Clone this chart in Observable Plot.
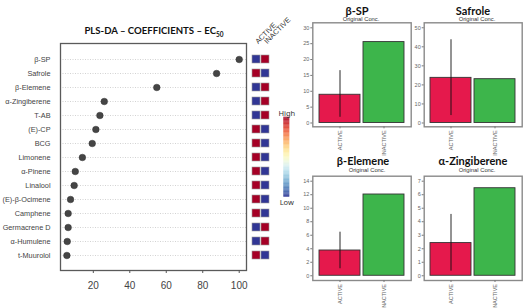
<!DOCTYPE html>
<html><head><meta charset="utf-8">
<script src="https://cdn.jsdelivr.net/npm/d3@7"></script>
<script src="https://cdn.jsdelivr.net/npm/@observablehq/plot@0.6"></script>
<style>
body{margin:0;background:#fff;}
#root{position:relative;width:529px;height:308px;overflow:hidden;background:#fff;font-family:"Liberation Sans",Arial,sans-serif;}
#root svg{position:absolute;background:transparent;}
.ttl{position:absolute;text-align:center;font-family:Lato,"Open Sans",sans-serif;font-weight:bold;color:#111;white-space:nowrap;}
.sub{position:absolute;text-align:center;font-family:"Liberation Sans",Arial,sans-serif;color:#333;white-space:nowrap;}
</style></head><body><div id="root"></div>
<script>
// ---------- data ----------
const compounds = ["β-SP","Safrole","β-Elemene","α-Zingiberene","T-AB","(E)-CP","BCG","Limonene","α-Pinene","Linalool","(E)-β-Ocimene","Camphene","Germacrene D","α-Humulene","t-Muurolol"];
const coefficients = [100, 87.6, 54.8, 26, 23.6, 21.4, 19.4, 14, 10.1, 9.5, 7.5, 6.2, 6.2, 5.7, 5.5];
const activeHigh = [0, 1, 0, 0, 0, 1, 1, 1, 1, 1, 1, 1, 0, 0, 1]; // 1 = High for ACTIVE (INACTIVE opposite)
const groups = ["ACTIVE", "INACTIVE"];
const coefTicks = [20, 40, 60, 80, 100];

const panelTitles = ["β-SP", "Safrole", "β-Elemene", "α-Zingiberene"];
const panelSubtitle = "Original Conc.";
const activeMeans = [8.9, 23.7, 3.74, 2.42];
const inactiveMeans = [25.5, 23.0, 12.03, 6.48];
const activeErrLow = [1.8, 3.9, 1.04, 0.34];
const activeErrHigh = [16.5, 43.7, 6.45, 4.54];
const panelTicks = [[0,5,10,15,20,25,30],[0,10,20,30,40,50],[0,2,4,6,8,10,12,14],[0,1,2,3,4,5,6,7]];
const panelDomains = [[-1.2,31.58],[-2.0,52.6],[-0.7,14.74],[-0.35,7.37]];

const root = document.getElementById("root");
function place(el, left, top){ el.style.left = left+"px"; el.style.top = top+"px"; root.appendChild(el); }

// ---------- title ----------
const t = document.createElement("div");
t.className = "ttl";
t.style.cssText = "left:60px;width:188px;top:25px;font-size:9.6px;";
t.innerHTML = "PLS-DA – COEFFICIENTS – EC<sub style='font-size:6.5px'>50</sub>";
root.appendChild(t);

// ---------- dot plot ----------
const dotData = compounds.map((c,i)=>({compound:c, coef:coefficients[i]}));
const dotPlot = Plot.plot({
  width: 250, height: 308,
  marginLeft: 60, marginRight: 4, marginTop: 43, marginBottom: 38,
  style: {background:"transparent", color:"#333", fontFamily:"Liberation Sans, Arial, sans-serif"},
  x: {domain:[2,104]},
  y: {type:"point", domain:compounds, padding:1},
  marks: [
    Plot.ruleY(compounds, {y:d=>d, stroke:"#c8c8c8", strokeDasharray:"1,1.5", strokeWidth:0.8}),
    Plot.frame({stroke:"#5a5a5a", strokeWidth:1.3}),
    Plot.dot(dotData, {x:"coef", y:"compound", r:3.3, fill:"#454545", stroke:"#333", strokeWidth:0.5}),
    Plot.axisX({ticks:coefTicks, tickSize:3, tickPadding:8, fontSize:10, label:null, stroke:"#555", fill:"#444"}),
    Plot.axisY({tickSize:0, tickPadding:10, fontSize:7.3, label:null, fill:"#444"})
  ]
});
place(dotPlot, 0, 0);

// ---------- heatmap ----------
const heatData = compounds.flatMap((c,i)=>[
  {compound:c, group:"ACTIVE", level:activeHigh[i]},
  {compound:c, group:"INACTIVE", level:1-activeHigh[i]}
]);
const heat = Plot.plot({
  width: 48, height: 308,
  marginLeft: 4, marginRight: 26, marginTop: 43, marginBottom: 38,
  style: {background:"transparent", overflow:"visible"},
  x: {type:"band", domain:groups, paddingInner:0.1, paddingOuter:0, axis:null},
  y: {type:"band", domain:compounds, paddingInner:0.436, paddingOuter:0.718, axis:null},
  color: {type:"linear", domain:[0,1], scheme:"RdYlBu", reverse:true},
  marks: [
    Plot.cell(heatData, {x:"group", y:"compound", fill:"level", stroke:"#999", strokeWidth:0.6}),
    Plot.text(groups, {x:d=>d, text:d=>d, frameAnchor:"top", dy:-3, dx:-2, rotate:-45, textAnchor:"start", fontSize:7.3, fill:"#333", fontFamily:"Liberation Sans, Arial, sans-serif"})
  ]
});
place(heat, 248, 0);

// ---------- color legend ----------
const stops = d3.range(0, 1, 0.01);
const legend = Plot.plot({
  width: 24, height: 120,
  marginLeft: 7.3, marginRight: 10.7, marginTop: 21.7, marginBottom: 18.3,
  style: {background:"transparent", overflow:"visible"},
  x: {domain:[0,1], axis:null},
  y: {domain:[0,1], axis:null},
  color: {type:"linear", domain:[0,1], scheme:"RdYlBu", reverse:true},
  marks: [
    Plot.rect(stops, {y1:d=>d, y2:d=>Math.min(1,d+0.011), fill:d=>d+0.005}),
    Plot.text(["High"], {text:d=>d, frameAnchor:"top", dy:-7, fontSize:7.5, fill:"#333"}),
    Plot.text(["Low"], {text:d=>d, frameAnchor:"bottom", dy:8, fontSize:7.5, fill:"#333"})
  ]
});
place(legend, 276, 95);

// ---------- bar panels ----------
const panelBoxes = [
  {left:296, top:0,   width:116, height:150, ml:16.3, mr:1.3, mt:22.3, mb:23.7, tx:357, ty:4,   sy:15.5},
  {left:412, top:0,   width:114, height:150, ml:11.7, mr:4.3, mt:22.3, mb:23.7, tx:473, ty:4,   sy:15.5},
  {left:296, top:150, width:116, height:158, ml:16.3, mr:1.3, mt:25.7, mb:28,   tx:363, ty:154, sy:167},
  {left:412, top:150, width:114, height:158, ml:11.7, mr:4.3, mt:25.7, mb:28,   tx:473, ty:154, sy:167}
];
panelTitles.forEach((title, i) => {
  const b = panelBoxes[i];
  const bars = groups.map((g,j)=>({group:g, value: j===0 ? activeMeans[i] : inactiveMeans[i]}));
  const err = [{group:"ACTIVE", lo:activeErrLow[i], hi:activeErrHigh[i]}];
  const p = Plot.plot({
    width: b.width, height: b.height,
    marginLeft: b.ml, marginRight: b.mr, marginTop: b.mt, marginBottom: b.mb,
    style: {background:"transparent", overflow:"visible", fontFamily:"Liberation Sans, Arial, sans-serif"},
    x: {type:"band", domain:groups, paddingInner:0.075, paddingOuter:0.15},
    y: {domain:panelDomains[i]},
    color: {domain:groups, range:["#e5194c","#3db54b"]},
    marks: [
      Plot.frame({stroke:"#8a8a8a", strokeWidth:1.4}),
      Plot.barY(bars, {x:"group", y1:0, y2:"value", fill:"group", stroke:"#333", strokeWidth:0.9}),
      Plot.ruleX(err, {x:"group", y1:"lo", y2:"hi", stroke:"#111", strokeWidth:0.9}),
      Plot.axisY({ticks:panelTicks[i], tickSize:2, tickPadding:1.5, fontSize:5.5, fill:"#666", stroke:"#777", label:null}),
      Plot.axisX({tickSize:2, tickPadding:1.5, tickRotate:-90, fontSize:5.5, fill:"#666", stroke:"#777", label:null})
    ]
  });
  place(p, b.left, b.top);
  const tt = document.createElement("div");
  tt.className = "ttl";
  tt.style.cssText = `left:${b.tx-50}px;width:100px;top:${b.ty}px;font-size:11px;`;
  tt.textContent = title;
  root.appendChild(tt);
  const st = document.createElement("div");
  st.className = "sub";
  st.style.cssText = `left:${b.tx-50+4}px;width:100px;top:${b.sy}px;font-size:5.8px;`;
  st.textContent = panelSubtitle;
  root.appendChild(st);
});
</script></body></html>
